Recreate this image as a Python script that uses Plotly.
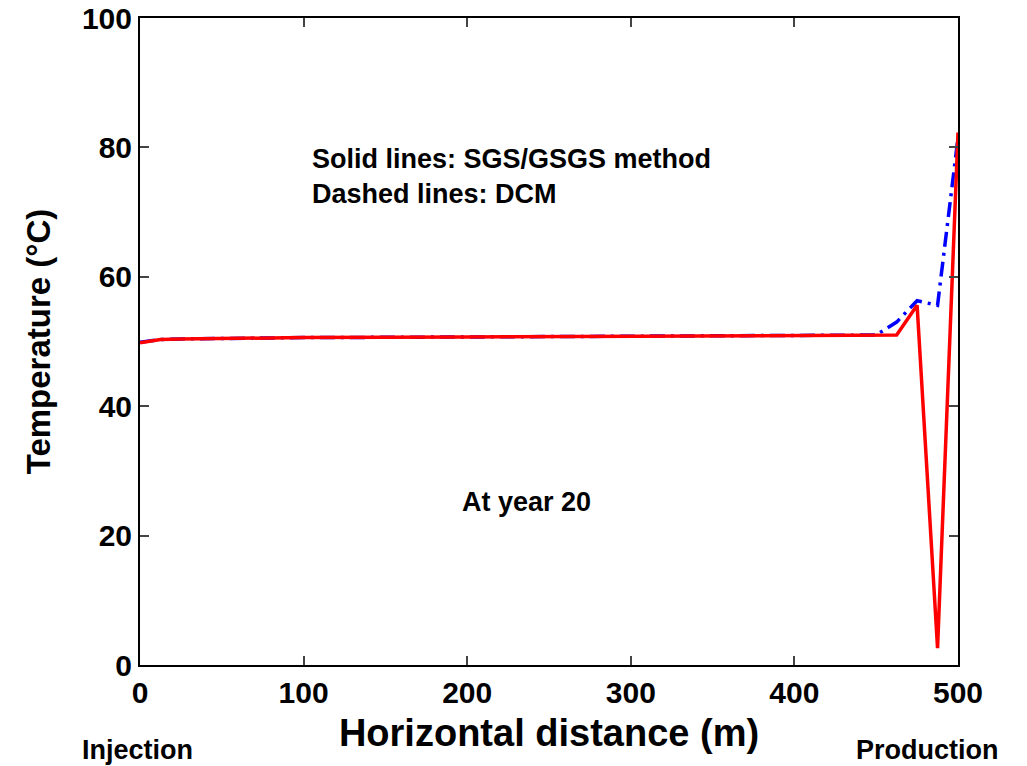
import plotly.graph_objects as go

# Data (m, degC)
x_sgs = [0, 12.5, 25, 50, 100, 200, 300, 400, 450, 462.5, 475, 487.5, 500]
t_sgs = [49.8, 50.3, 50.4, 50.5, 50.6, 50.7, 50.8, 50.9, 50.9, 51.0, 55.6, 2.6, 82.3]

x_dcm = [0, 12.5, 25, 50, 100, 200, 300, 400, 450, 462.5, 475, 487.5, 500]
t_dcm = [49.9, 50.3, 50.4, 50.5, 50.6, 50.7, 50.8, 50.9, 51.0, 53.0, 56.3, 55.6, 81.5]

x_ticks = [0, 100, 200, 300, 400, 500]
y_ticks = [0, 20, 40, 60, 80, 100]

FONT = "Liberation Sans, Arial, sans-serif"
tick_font = dict(family=FONT, size=30, color="black", weight="bold")
note_font = dict(family=FONT, size=27, color="black", weight="bold")

fig = go.Figure()
fig.add_trace(go.Scatter(x=x_dcm, y=t_dcm, mode="lines", name="DCM",
                         line=dict(color="blue", width=3.5, dash="15px,6px,3px,6px")))
fig.add_trace(go.Scatter(x=x_sgs, y=t_sgs, mode="lines", name="SGS/GSGS",
                         line=dict(color="red", width=3.5)))

fig.update_xaxes(range=[0, 500], tickvals=x_ticks, ticks="inside", ticklen=9, tickwidth=1.5,
                 showline=True, linewidth=2, linecolor="black", mirror="ticks",
                 showgrid=False, zeroline=False, tickfont=tick_font, ticklabeloverflow="allow",
                 title=dict(text="Horizontal distance (m)", standoff=11,
                            font=dict(family=FONT, size=38, color="black", weight="bold")))
fig.update_yaxes(range=[0, 100], tickvals=y_ticks, ticks="inside", ticklen=9, tickwidth=1.5,
                 showline=True, linewidth=2, linecolor="black", mirror="ticks",
                 showgrid=False, zeroline=False, tickfont=tick_font, ticklabeloverflow="allow",
                 title=dict(text="Temperature (°C)", standoff=21,
                            font=dict(family=FONT, size=33, color="black", weight="bold")))

fig.add_annotation(x=0.208, y=0.755, xref="paper", yref="paper", xanchor="left", yanchor="middle",
                   align="left", text="Solid lines: SGS/GSGS method<br>Dashed lines: DCM",
                   showarrow=False, font=note_font)
fig.add_annotation(x=0.472, y=0.226, xref="paper", yref="paper", xanchor="center",
                   text="At year 20", showarrow=False, font=note_font)
fig.add_annotation(x=-0.003, y=-0.157, xref="paper", yref="paper", xanchor="center",
                   text="Injection", showarrow=False, font=note_font)
fig.add_annotation(x=0.963, y=-0.157, xref="paper", yref="paper", xanchor="center",
                   text="Production", showarrow=False, font=note_font)

fig.update_layout(width=1027, height=766, showlegend=False,
                  plot_bgcolor="white", paper_bgcolor="white",
                  margin=dict(l=140, r=69, t=18, b=101, autoexpand=False))

# page body has an 8px default margin; drop it so the figure sits at the corner
fig.write_html("out.html", config={"displayModeBar": False},
               post_script="document.body.style.margin='0';")
